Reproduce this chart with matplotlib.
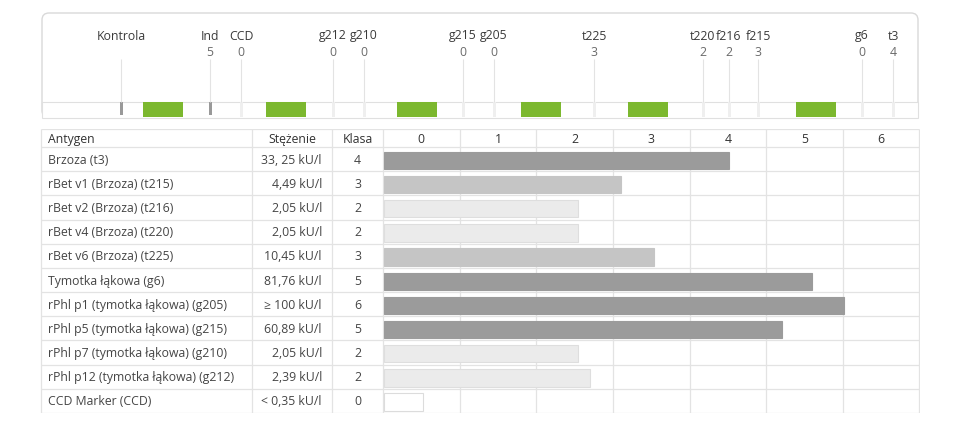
import matplotlib
matplotlib.use("Agg")
import matplotlib.pyplot as plt
from matplotlib.patches import FancyBboxPatch, Rectangle

# table data
antigens = ["Brzoza (t3)", "rBet v1 (Brzoza) (t215)", "rBet v2 (Brzoza) (t216)",
            "rBet v4 (Brzoza) (t220)", "rBet v6 (Brzoza) (t225)", "Tymotka łąkowa (g6)",
            "rPhl p1 (tymotka łąkowa) (g205)", "rPhl p5 (tymotka łąkowa) (g215)",
            "rPhl p7 (tymotka łąkowa) (g210)", "rPhl p12 (tymotka łąkowa) (g212)",
            "CCD Marker (CCD)"]
concentrations = ["33, 25 kU/l", "4,49 kU/l", "2,05 kU/l", "2,05 kU/l", "10,45 kU/l",
                  "81,76 kU/l", "≥ 100 kU/l", "60,89 kU/l", "2,05 kU/l", "2,39 kU/l",
                  "< 0,35 kU/l"]
classes = [4, 3, 2, 2, 3, 5, 6, 5, 2, 2, 0]
scores = [4.51, 3.09, 2.53, 2.53, 3.52, 5.59, 6.0, 5.19, 2.53, 2.69, 0.51]
class_ticks = [0, 1, 2, 3, 4, 5, 6]

# chip strip data
chip_labels = ["Kontrola", "Ind", "CCD", "g212", "g210", "g215", "g205",
               "t225", "t220", "f216", "f215", "g6", "t3"]
chip_classes = ["", "5", "0", "0", "0", "0", "0", "3", "2", "2", "3", "0", "4"]
chip_pos = [121, 210, 241, 333, 364, 463, 494, 594, 703, 729, 758, 862, 893]
control_pos = [121, 210]
ref_spots = [163, 286, 417, 541, 648, 816]

bar_face = {0: "white", 2: "#ebebeb", 3: "#c5c5c5", 4: "#9b9b9b", 5: "#9b9b9b", 6: "#9b9b9b"}
bar_edge = {0: "#dcdcdc", 2: "#dedede", 3: "#c5c5c5", 4: "#9b9b9b", 5: "#9b9b9b", 6: "#9b9b9b"}

FONT = ["Open Sans", "DejaVu Sans"]
plt.rcParams["font.family"] = FONT
TXT = "#454545"
LINE = "#e3e3e3"
FS = 8.8

W, H = 960, 431
fig = plt.figure(figsize=(W / 100, H / 100), dpi=100)


def px_axes(x0, y0, x1, y1):
    return fig.add_axes([x0 / W, 1 - y1 / H, (x1 - x0) / W, (y1 - y0) / H])


# top panel
ax_top = px_axes(38, 10, 922, 121)
ax_top.set_xlim(38, 922)
ax_top.set_ylim(121, 10)
ax_top.axis("off")
ax_top.add_patch(FancyBboxPatch((42, 14), 876, 104.5,
                                boxstyle="round,pad=0,rounding_size=7",
                                fc="white", ec="#d9d9d9", lw=1))
ax_top.add_patch(Rectangle((42, 102.5), 876, 16, fc="white", ec="#e0e0e0", lw=0.8))
ax_top.vlines(chip_pos, 60, 102.5, color=LINE, lw=0.8)
for p in chip_pos:
    if p not in control_pos:
        ax_top.add_patch(Rectangle((p - 1.5, 103), 3, 15, fc="#efefef", ec="none"))
for p in control_pos:
    ax_top.add_patch(Rectangle((p - 1.5, 103), 3, 13, fc="#999999", ec="none"))
for c in ref_spots:
    ax_top.add_patch(Rectangle((c - 20, 103), 40, 15, fc="#7cb82f", ec="none"))
for p, lab, cl in zip(chip_pos, chip_labels, chip_classes):
    ax_top.text(p, 36, lab, ha="center", va="center", fontsize=FS, color="#3a3a3a")
    ax_top.text(p, 52, cl, ha="center", va="center", fontsize=FS, color="#6a6a6a")

# table
n = len(antigens)
ax_tab = px_axes(40, 130, 920, 414)
ax_tab.set_xlim(40, 920)
ax_tab.set_ylim(n, -0.75)
ax_tab.axis("off")
ax_tab.hlines([-0.75] + list(range(n + 1)), 40.5, 919.5, color=LINE, lw=0.9)
ax_tab.vlines([40.5, 252, 332, 383, 919.5], -0.75, n, color=LINE, lw=0.9)
ax_tab.text(48, -0.375, "Antygen", ha="left", va="center", fontsize=FS, color="#333333")
ax_tab.text(292, -0.375, "Stężenie", ha="center", va="center", fontsize=FS, color="#333333")
ax_tab.text(357.5, -0.375, "Klasa", ha="center", va="center", fontsize=FS, color="#333333")
for i in range(n):
    ax_tab.text(48, i + 0.5, antigens[i], ha="left", va="center", fontsize=FS, color=TXT)
    ax_tab.text(322, i + 0.5, concentrations[i], ha="right", va="center", fontsize=FS, color=TXT)
    ax_tab.text(357.5, i + 0.5, str(classes[i]), ha="center", va="center", fontsize=FS, color=TXT)

# bars
ax_bar = px_axes(383, 130, 919.5, 414)
ax_bar.set_xlim(0, len(class_ticks))
ax_bar.set_ylim(n, -0.75)
ax_bar.axis("off")
ax_bar.vlines(class_ticks[1:], -0.75, n, color=LINE, lw=0.9, zorder=0)
rows = [i + 0.55 for i in range(n)]
ax_bar.barh(rows, scores, height=0.72, left=0.01,
            color=[bar_face[c] for c in classes],
            edgecolor=[bar_edge[c] for c in classes], lw=0.8, zorder=2)
for k in class_ticks:
    ax_bar.text(k + 0.5, -0.375, str(k), ha="center", va="center", fontsize=FS, color="#333333")

fig.savefig("out.png", dpi=100)
